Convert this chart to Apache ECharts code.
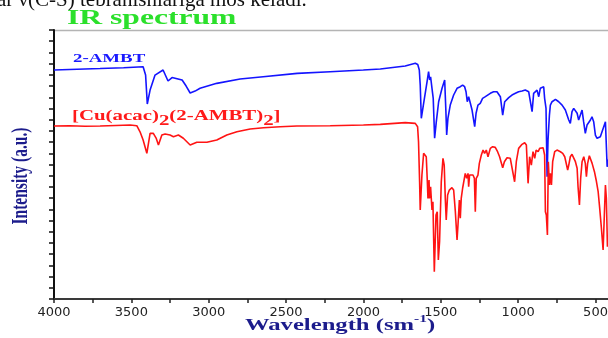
<!DOCTYPE html>
<html>
<head>
<meta charset="utf-8">
<script src="https://cdn.jsdelivr.net/npm/echarts@6/dist/echarts.min.js"></script>
<style>
  html, body { margin: 0; padding: 0; background: #fff; }
  #chart { width: 608px; height: 338px; }
</style>
</head>
<body>
<div id="chart"></div>
<script>
// 横轴刻度 (cm-1)
var xLabels = [4000, 3500, 3000, 2500, 2000, 1500, 1000, 500]
var xTicks = [4000, 3750, 3500, 3250, 3000, 2750, 2500, 2250, 2000, 1750, 1500, 1250, 1000, 750, 500]

// 2-AMBT  [wavenumber, intensity]
var ambt = [
  [4000, 20.43], [3850, 20.5], [3702, 20.56], [3550, 20.63], [3424, 20.72], [3408, 19.98], [3397, 17.4],
  [3379, 18.64], [3347, 19.98], [3295, 20.43], [3263, 19.45], [3237, 19.76], [3172, 19.54], [3146, 19.0],
  [3120, 18.38], [3088, 18.55], [3056, 18.8], [2948, 19.24], [2797, 19.63], [2648, 19.83], [2428, 20.13],
  [2215, 20.28], [2001, 20.43], [1891, 20.52], [1730, 20.79], [1665, 21.03], [1649, 20.92], [1639, 20.43],
  [1633, 19.09], [1626, 16.12], [1611, 17.46], [1600, 17.6], [1589, 19.38], [1579, 20.28], [1572, 19.54],
  [1566, 19.83], [1557, 18.8], [1549, 17.9], [1540, 14.34], [1529, 15.82], [1514, 17.6], [1492, 18.8],
  [1475, 19.54], [1467, 16.71], [1462, 14.63], [1454, 16.12], [1439, 17.3], [1417, 18.2], [1395, 18.8],
  [1374, 18.94], [1359, 19.09], [1346, 18.94], [1337, 18.49], [1329, 17.6], [1320, 18.05], [1309, 17.46],
  [1298, 16.86], [1288, 17.01], [1281, 15.37], [1272, 16.57], [1260, 17.3], [1245, 17.46], [1230, 17.9],
  [1212, 18.05], [1180, 18.35], [1159, 18.49], [1137, 18.49], [1115, 18.05], [1100, 16.41], [1087, 17.6],
  [1061, 17.97], [1040, 18.2], [1018, 18.35], [997, 18.49], [975, 18.55], [954, 18.64], [943, 18.7],
  [932, 18.49], [921, 18.64], [910, 16.71], [900, 18.35], [878, 18.64], [867, 18.05], [857, 18.8],
  [846, 18.91], [835, 18.94], [829, 17.9], [820, 17.01], [813, 10.91], [807, 14.18], [798, 16.41],
  [792, 17.3], [781, 17.6], [759, 17.81], [738, 17.6], [716, 17.3], [695, 16.86], [684, 16.71],
  [673, 15.97], [663, 15.67], [652, 16.71], [641, 17.01], [630, 16.86], [619, 16.57], [609, 15.97],
  [598, 16.12], [587, 16.86], [577, 15.82], [566, 14.78], [555, 15.52], [533, 15.97], [523, 16.26],
  [512, 15.82], [501, 14.63], [490, 14.34], [469, 14.48], [458, 14.34], [447, 15.37], [436, 15.82],
  [425, 11.8], [400, 13.5]
]

// [Cu(acac)2(2-AMBT)2]
var complex = [
  [4000, 15.43], [3900, 15.46], [3800, 15.41], [3702, 15.44], [3600, 15.48], [3508, 15.52], [3465, 15.46],
  [3444, 14.92], [3424, 14.18], [3400, 13.0], [3379, 14.78], [3358, 14.78], [3340, 14.36], [3325, 13.74],
  [3303, 14.63], [3282, 14.72], [3250, 14.63], [3228, 14.48], [3196, 14.63], [3164, 14.34], [3120, 13.74],
  [3077, 13.98], [3012, 13.98], [2948, 14.18], [2883, 14.63], [2818, 14.92], [2732, 15.17], [2646, 15.28],
  [2538, 15.37], [2430, 15.43], [2215, 15.46], [2000, 15.52], [1891, 15.58], [1730, 15.74], [1665, 15.67],
  [1650, 15.37], [1644, 14.03], [1637, 10.46], [1633, 7.94], [1622, 11.06], [1611, 13.0], [1600, 12.85],
  [1594, 12.69], [1587, 10.46], [1583, 8.98], [1576, 10.62], [1573, 8.98], [1566, 10.02], [1557, 7.94],
  [1551, 8.68], [1542, 2.44], [1531, 7.49], [1523, 7.79], [1516, 3.48], [1508, 5.11], [1497, 10.46],
  [1486, 12.55], [1478, 11.95], [1471, 8.98], [1465, 7.05], [1456, 9.28], [1445, 9.72], [1428, 9.93],
  [1417, 9.72], [1406, 7.79], [1395, 5.26], [1389, 6.6], [1380, 8.83], [1374, 7.2], [1368, 8.98],
  [1359, 9.88], [1350, 10.02], [1342, 11.21], [1333, 10.77], [1324, 11.21], [1320, 10.02], [1314, 11.06],
  [1303, 10.91], [1292, 11.06], [1283, 10.77], [1277, 7.79], [1271, 10.77], [1260, 11.06], [1251, 12.1],
  [1238, 12.85], [1227, 13.29], [1217, 13.0], [1206, 13.29], [1195, 12.69], [1180, 13.44], [1165, 13.59],
  [1148, 13.53], [1133, 13.14], [1120, 12.69], [1111, 12.25], [1100, 11.71], [1089, 12.25], [1072, 12.6],
  [1051, 12.55], [1040, 12.4], [1023, 10.46], [1012, 12.25], [997, 13.44], [975, 13.8], [958, 13.94],
  [947, 13.74], [936, 10.32], [926, 12.69], [915, 11.95], [904, 13.14], [893, 12.55], [884, 13.29],
  [871, 13.14], [861, 13.44], [850, 13.29], [839, 13.5], [829, 12.85], [824, 7.79], [818, 7.49],
  [811, 5.71], [805, 12.25], [798, 10.17], [792, 11.21], [785, 10.17], [777, 12.25], [764, 13.14],
  [749, 13.29], [727, 13.14], [712, 13.0], [699, 12.69], [688, 12.55], [680, 11.51], [673, 11.95],
  [663, 12.69], [652, 12.91], [641, 12.85], [630, 12.25], [619, 11.66], [613, 10.02], [604, 8.39],
  [596, 10.77], [587, 12.25], [576, 12.69], [566, 12.1], [559, 10.91], [551, 12.1], [540, 12.78],
  [529, 12.91], [522, 12.1], [516, 11.95], [507, 11.36], [496, 10.62], [483, 9.57], [473, 8.09],
  [462, 6.31], [451, 4.37], [443, 7.49], [436, 10.17], [430, 8.98], [423, 4.67], [400, 6.5]
]

var navy = '#1c1c8c'

var myChart = echarts.init(document.getElementById('chart'))

var option = {
  backgroundColor: '#fff',
  animation: false,
  grid: { left: 54, top: 30, width: 557, height: 269, outerBoundsMode: 'none', containLabel: false },
  xAxis: {
    type: 'value',
    inverse: true,
    min: 400,
    max: 4000,
    splitLine: { show: false },
    axisLine: { lineStyle: { color: '#3a3a3a', width: 2 } },
    axisTick: {
      customValues: xTicks,
      length: 4,
      lineStyle: { color: '#222', width: 1.5 },
    },
    axisLabel: {
      customValues: xLabels,
      formatter: function (v) { return String(v) },
      color: '#222',
      fontFamily: 'DejaVu Sans',
      fontSize: 13,
      margin: 7,
    },
  },
  yAxis: {
    type: 'value',
    min: 0,
    max: 24,
    interval: 1,
    splitLine: { show: false },
    axisLabel: { show: false },
    axisLine: { lineStyle: { color: '#111', width: 2 } },
    axisTick: { length: 5, lineStyle: { color: '#111', width: 1.5 } },
  },
  graphic: [
    // 顶部被截断的文字
    {
      type: 'text', x: -3, y: 0,
      style: {
        text: 'ar ν(C-S) tebranishlariga mos keladi.',
        font: '21px "Liberation Serif"', fill: '#111', verticalAlign: 'middle',
      },
    },
    {
      type: 'line',
      shape: { x1: 54, y1: 30.5, x2: 608, y2: 30.5 },
      style: { stroke: '#b4b4b4', lineWidth: 1.5 },
    },
    // 标题
    {
      type: 'text', x: 67, y: 19, scaleX: 1.58,
      style: {
        text: 'IR spectrum',
        font: 'bold 20px "Liberation Serif"', fill: '#2be02b', verticalAlign: 'middle',
      },
    },
    {
      type: 'text', x: 73, y: 58.6, scaleX: 1.45,
      style: {
        text: '2-AMBT',
        font: 'bold 13px "Liberation Serif"', fill: '#1a1aff', verticalAlign: 'middle',
      },
    },
    {
      type: 'text', x: 72, y: 109, scaleX: 1.49,
      style: {
        text: '{n|[Cu(acac)}{s|2}{n|(2-AMBT)}{s|2}{n|]}',
        verticalAlign: 'top',
        rich: {
          n: { font: 'bold 14px "Liberation Serif"', fill: '#ff1a1a', lineHeight: 16, verticalAlign: 'top' },
          s: { font: 'bold 14px "Liberation Serif"', fill: '#ff1a1a', lineHeight: 16, verticalAlign: 'top', padding: [5, 0, 0, 0] },
        },
      },
    },
    // 坐标轴名称
    {
      type: 'text', x: 245, y: 314, scaleX: 1.54,
      style: {
        text: '{n|Wavelength (sm}{p|-1}{n|)}',
        verticalAlign: 'top',
        rich: {
          n: { font: 'bold 16px "Liberation Serif"', fill: navy, lineHeight: 16, verticalAlign: 'top', padding: [4, 0, 0, 0] },
          p: { font: 'bold 10px "Liberation Serif"', fill: navy, lineHeight: 10, verticalAlign: 'top' },
        },
      },
    },
    {
      type: 'text', x: 21, y: 176, rotation: Math.PI / 2, scaleY: 1.5,
      style: {
        text: 'Intensity (a.u.)',
        font: 'bold 15.5px "Liberation Serif"', fill: navy, align: 'center', verticalAlign: 'middle',
      },
    },
  ],
  series: [
    {
      name: '2-AMBT',
      type: 'line',
      data: ambt,
      showSymbol: false,
      lineStyle: { color: '#1414ff', width: 1.6 },
    },
    {
      name: '[Cu(acac)2(2-AMBT)2]',
      type: 'line',
      data: complex,
      showSymbol: false,
      lineStyle: { color: '#ff1414', width: 1.6 },
    },
  ],
}

myChart.setOption(option)
</script>
</body>
</html>
